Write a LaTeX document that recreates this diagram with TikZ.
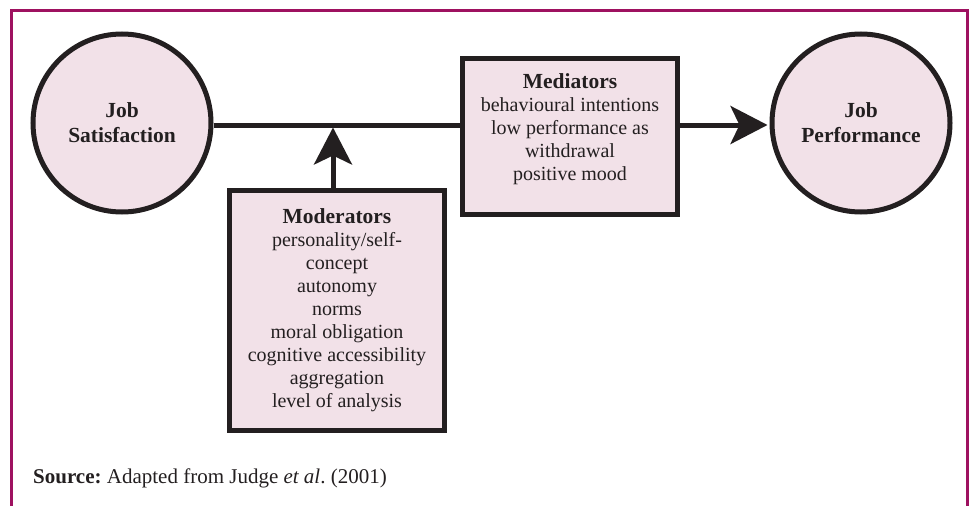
\documentclass[tikz,border=0pt]{standalone}
\usepackage{fontspec}
\setmainfont{Liberation Serif}
\usetikzlibrary{arrows.meta}
\definecolor{framec}{RGB}{158,17,96}
\definecolor{fillc}{RGB}{242,225,232}
\definecolor{inkc}{RGB}{35,31,32}
\frenchspacing
\begin{document}
\begin{tikzpicture}[x=1pt,y=-1pt,
  circ/.style={circle, draw=inkc, fill=fillc, line width=5pt, minimum size=178pt, inner sep=0pt,
    align=center, font=\bfseries\fontsize{21.5}{25}\selectfont, text=inkc},
  boxshape/.style={rectangle, draw=inkc, fill=fillc, line width=5pt, inner sep=0pt},
  bodytext/.style={align=center, inner sep=0pt, text=inkc, font=\fontsize{20}{23}\selectfont},
  conn/.style={draw=inkc, line width=5pt},
  bigtip/.style={-{Stealth[length=37pt,width=38pt,inset=9pt]}}]
\useasboundingbox (0,0) rectangle (970,506);
% frame
\draw[framec, line width=3pt] (11,506) -- (11,10) -- (967,10) -- (967,506);
% shapes
\node[circ] (js) at (122,123) {Job\\Satisfaction};
\node[circ] (jp) at (861,123) {Job\\Performance};
\node[boxshape, minimum width=215pt, minimum height=156pt] (med) at (570,136.5) {};
\node[boxshape, minimum width=215pt, minimum height=240pt] (mod) at (337,310.5) {};
% texts
\node[bodytext, anchor=north] (medtxt) at ([yshift=-17pt]med.north)
  {\textbf{\fontsize{21.5}{23}\selectfont Mediators}\\behavioural intentions\\low performance as\\withdrawal\\positive mood};
\node[bodytext, anchor=north] (modtxt) at ([yshift=-20pt]mod.north)
  {\textbf{\fontsize{21.5}{23}\selectfont Moderators}\\personality/self-\\concept\\autonomy\\norms\\moral obligation\\cognitive accessibility\\aggregation\\level of analysis};
\node[anchor=base west, inner sep=0pt, text=inkc, font=\fontsize{21}{25}\selectfont] (src) at (33,483)
  {\textbf{Source:} Adapted from Judge \textit{et al}. (2001)};
% connectors
\coordinate (lineL) at ([yshift=-2pt]js.east);
\draw[conn] (lineL) -- (lineL -| med.west);
\draw[conn, bigtip, shorten >=2pt] (med.east |- lineL) -- (lineL -| jp.west);
\coordinate (upstart) at ([xshift=-4pt]mod.north);
\draw[conn, bigtip, shorten >=2.5pt] (upstart) -- (upstart |- lineL);
\end{tikzpicture}
\end{document}
